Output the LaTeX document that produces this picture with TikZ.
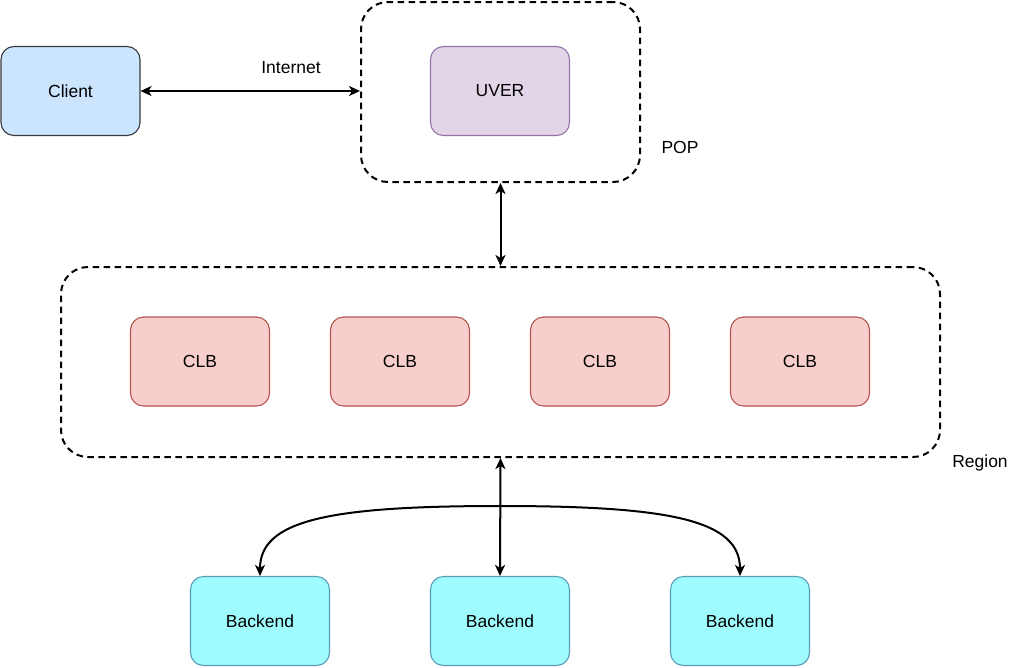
\documentclass[tikz,border=0pt]{standalone}
\usepackage{fontspec}
\setmainfont{Liberation Sans}
\usetikzlibrary{arrows.meta}
\definecolor{clientfill}{HTML}{CCE5FF}
\definecolor{clientdraw}{HTML}{36393D}
\definecolor{uverfill}{HTML}{E1D5E7}
\definecolor{uverdraw}{HTML}{9673A6}
\definecolor{clbfill}{HTML}{F8CECC}
\definecolor{clbdraw}{HTML}{B85450}
\definecolor{bkfill}{HTML}{9EFCFF}
\definecolor{bkdraw}{HTML}{5A9BB5}
\tikzset{
  box/.style={rectangle, rounded corners=13pt, minimum width=139pt, minimum height=89pt, line width=1.1pt, inner sep=0pt, font=\fontsize{17.5}{20}\selectfont},
  clientbox/.style={box, fill=clientfill, draw=clientdraw},
  uverbox/.style={box, fill=uverfill, draw=uverdraw},
  clbbox/.style={box, fill=clbfill, draw=clbdraw},
  bkbox/.style={box, fill=bkfill, draw=bkdraw},
  group/.style={rectangle, rounded corners=27pt, draw=black, line width=2pt, dash pattern=on 6.5pt off 4.5pt, inner sep=0pt},
  lbl/.style={font=\fontsize{17.5}{20}\selectfont, inner sep=0pt},
  arr/.style={{Stealth[length=11pt,width=10pt,inset=3pt]}-{Stealth[length=11pt,width=10pt,inset=3pt]}, line width=2pt, black}
}
\begin{document}
\begin{tikzpicture}[x=1pt,y=-1pt]
\useasboundingbox (0,0) rectangle (1031,667);
% groups
\node[group, minimum width=279pt, minimum height=180pt] (pop) at (500.5,92) {};
\node[group, minimum width=879pt, minimum height=190pt] (region) at (500.5,362) {};
% nodes
\node[clientbox] (client) at (70.5,91) {Client};
\node[uverbox] (uver) at (500,91) {UVER};
\node[clbbox] (clb1) at (200,361.5) {CLB};
\node[clbbox] (clb2) at (400,361.5) {CLB};
\node[clbbox] (clb3) at (600,361.5) {CLB};
\node[clbbox] (clb4) at (800,361.5) {CLB};
\node[bkbox] (b1) at (260,621) {Backend};
\node[bkbox] (b2) at (500,621) {Backend};
\node[bkbox] (b3) at (740,621) {Backend};
% labels
\node[lbl] (internet) at (291,68) {Internet};
\node[lbl] (poplbl) at (680,147) {POP};
\node[lbl] (regionlbl) at (980,463) {Region};
% connectors
\draw[arr] (client.east) -- (client.east -| pop.west);
\draw[arr] (pop.south) -- (region.north);
\draw[arr] (region.south) -- (b2.north);
\coordinate (apex) at (500,506);
\draw[arr] (b1.north) .. controls (260,520) and (330,506) .. (apex) .. controls (670,506) and (740,520) .. (b3.north);
\end{tikzpicture}
\end{document}
